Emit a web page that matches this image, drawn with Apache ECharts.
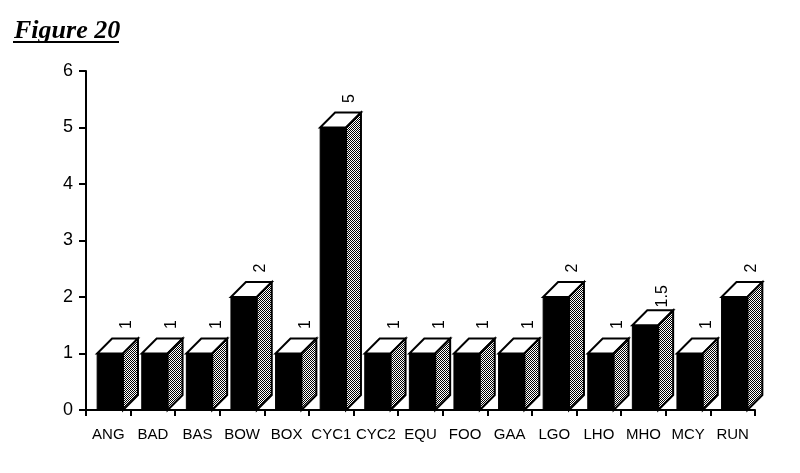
<!DOCTYPE html>
<html>
<head>
<meta charset="utf-8">
<script src="https://cdn.jsdelivr.net/npm/echarts@6/dist/echarts.min.js"></script>
<style>
html,body{margin:0;padding:0;background:#fff;}
#chart{width:800px;height:473px;}
</style>
</head>
<body>
<div id="chart"></div>
<script>
const categories = ["ANG","BAD","BAS","BOW","BOX","CYC1","CYC2","EQU","FOO","GAA","LGO","LHO","MHO","MCY","RUN"];
const values = [1,1,1,2,1,5,1,1,1,1,2,1,1.5,1,2];
const yTicks = [0,1,2,3,4,5,6];

// stipple pattern for the side faces
const pc = document.createElement('canvas');
pc.width = 2; pc.height = 2;
const pctx = pc.getContext('2d');
pctx.fillStyle = '#fff'; pctx.fillRect(0,0,2,2);
pctx.fillStyle = '#000'; pctx.fillRect(0,0,1,1); pctx.fillRect(1,1,1,1);
const stipple = {image: pc, repeat: 'repeat'};

const chart = echarts.init(document.getElementById('chart'), null, {renderer:'canvas'});

function renderItem(params, api) {
  const idx = api.value(0);
  const v = api.value(1);
  const top = api.coord([idx, v]);
  const base = api.coord([idx, 0]);
  const band = api.size([1, 0])[0];
  const cx = top[0];
  const fl = cx - band * 0.25;
  const fr = cx + band * 0.33;
  const d = band * 0.335;
  const yt = top[1];
  const y0 = base[1];
  return {
    type: 'group',
    children: [
      {type:'rect', shape:{x:fl, y:yt, width:fr-fl, height:y0-yt}, style:{fill:'#000', stroke:'#000', lineWidth:1}},
      {type:'polygon', shape:{points:[[fl,yt],[fr,yt],[fr+d,yt-d],[fl+d,yt-d]]}, style:{fill:'#fff', stroke:'#000', lineWidth:2}},
      {type:'polygon', shape:{points:[[fr,yt],[fr+d,yt-d],[fr+d,y0-d],[fr,y0]]}, style:{fill:stipple, stroke:'#000', lineWidth:2}},
      {type:'text', x: fr + 4, y: yt - d - 14, rotation: Math.PI/2,
       style:{text:String(v), fill:'#000', font:'16px "Liberation Sans", Arial, sans-serif', align:'center', verticalAlign:'middle'}}
    ]
  };
}

chart.setOption({
  animation: false,
  backgroundColor: '#fff',
  title: {
    text: 'Figure 20', left: 9, top: 13,
    textStyle: {fontFamily:'"Liberation Serif", "Times New Roman", serif', fontStyle:'italic', fontWeight:'bold', fontSize:26, color:'#000'}
  },
  graphic: [
    {type:'line', shape:{x1:13, y1:42, x2:119, y2:42}, style:{stroke:'#000', lineWidth:2}}
  ],
  grid: {left:86, right:45, top:71, bottom:63},
  xAxis: {
    type: 'category',
    data: categories,
    boundaryGap: true,
    axisLine: {lineStyle:{color:'#000', width:2}},
    axisTick: {show:true, length:6, alignWithLabel:false, lineStyle:{color:'#000', width:2}},
    axisLabel: {color:'#000', fontSize:15, fontFamily:'"Liberation Sans", Arial, sans-serif', margin:17, interval:0},
    splitLine: {show:false}
  },
  yAxis: {
    type: 'value',
    min: 0, max: 6, interval: 1,
    axisLine: {show:true, lineStyle:{color:'#000', width:2}},
    axisTick: {show:true, length:7, lineStyle:{color:'#000', width:2}},
    axisLabel: {color:'#000', fontSize:18, fontFamily:'"Liberation Sans", Arial, sans-serif', margin:13,
      formatter: function(val){ return yTicks.indexOf(val) >= 0 ? String(val) : ''; }},
    splitLine: {show:false}
  },
  series: [{
    type: 'custom',
    renderItem: renderItem,
    encode: {x: 0, y: 1},
    data: values.map(function(v, i){ return [i, v]; }),
    clip: false
  }]
});
</script>
</body>
</html>
